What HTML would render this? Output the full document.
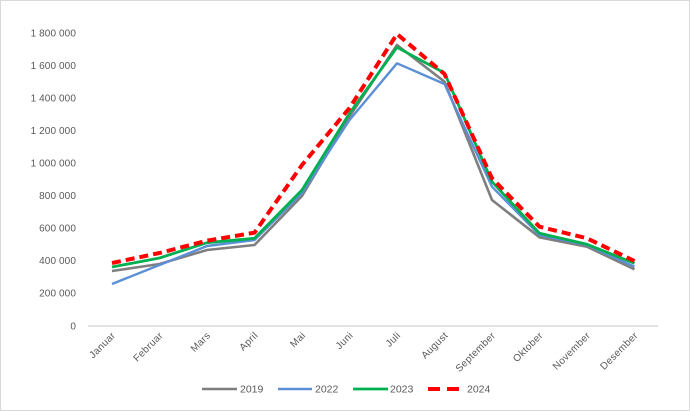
<!DOCTYPE html>
<html>
<head>
<meta charset="utf-8">
<style>
  html, body { margin: 0; padding: 0; background: #fff; }
  body { width: 690px; height: 411px; overflow: hidden; }
  svg { display: block; }
  text { font-family: "Liberation Sans", "DejaVu Sans", sans-serif; fill: #595959; }
</style>
</head>
<body>
<svg width="690" height="411" viewBox="0 0 690 411" xmlns="http://www.w3.org/2000/svg">
  <rect x="0.5" y="0.5" width="689" height="410" fill="#fff" stroke="#d9d9d9" stroke-width="1"/>

  <!-- Y axis labels -->
  <g font-size="10" text-anchor="end" letter-spacing="0.1">
    <text x="76" y="36.5">1 800 000</text>
    <text x="76" y="69">1 600 000</text>
    <text x="76" y="101.5">1 400 000</text>
    <text x="76" y="134">1 200 000</text>
    <text x="76" y="166.5">1 000 000</text>
    <text x="76" y="199">800 000</text>
    <text x="76" y="231.5">600 000</text>
    <text x="76" y="264">400 000</text>
    <text x="76" y="296.5">200 000</text>
    <text x="76" y="329.5">0</text>
  </g>

  <!-- X axis line -->
  <line x1="88" y1="326" x2="658" y2="326" stroke="#d9d9d9" stroke-width="1.5"/>

  <!-- X labels rotated -45 -->
  <g font-size="10" text-anchor="end" letter-spacing="0.3">
    <text transform="translate(116,336) rotate(-45)">Januar</text>
    <text transform="translate(163.5,336) rotate(-45)">Februar</text>
    <text transform="translate(211,336) rotate(-45)">Mars</text>
    <text transform="translate(258.5,336) rotate(-45)">April</text>
    <text transform="translate(306,336) rotate(-45)">Mai</text>
    <text transform="translate(353.5,336) rotate(-45)">Juni</text>
    <text transform="translate(401,336) rotate(-45)">Juli</text>
    <text transform="translate(448.5,336) rotate(-45)">August</text>
    <text transform="translate(496,336) rotate(-45)">September</text>
    <text transform="translate(543.5,336) rotate(-45)">Oktober</text>
    <text transform="translate(591,336) rotate(-45)">November</text>
    <text transform="translate(638.5,336) rotate(-45)">Desember</text>
  </g>

  <!-- Series -->
  <g fill="none" stroke-linejoin="round">
    <polyline stroke="#7f7f7f" stroke-width="2.6"
      points="112,271 159.5,264 207,250 254.5,245 302,196 349.5,116.7 397,45 444.5,81.7 492,200 539.5,237.3 587,246.7 634.5,269.3"/>
    <polyline stroke="#5b8fd6" stroke-width="2.4"
      points="112,284 159.5,265 207,246 254.5,240 302,193 349.5,120 397,63.3 444.5,84 492,186.7 539.5,235 587,245 634.5,266.7"/>
    <polyline stroke="#00b050" stroke-width="2.8"
      points="112,267 159.5,258 207,242.7 254.5,238.3 302,190 349.5,113.3 397,47.3 444.5,73 492,181.7 539.5,233.3 587,244.3 634.5,263.3"/>
    <polyline stroke="#ff0000" stroke-width="4" stroke-dasharray="9,5" stroke-linecap="butt"
      points="112,263 159.5,253 207,240.7 254.5,232.7 302,165 349.5,108 397,34 444.5,74 492,178.3 539.5,226.7 587,238.3 634.5,261"/>
  </g>

  <!-- Legend -->
  <g font-size="10.5">
    <line x1="202" y1="389" x2="237" y2="389" stroke="#7f7f7f" stroke-width="2.6"/>
    <text x="240" y="392.5">2019</text>
    <line x1="278" y1="389" x2="312" y2="389" stroke="#5b8fd6" stroke-width="2.4"/>
    <text x="315" y="392.5">2022</text>
    <line x1="353" y1="389" x2="388" y2="389" stroke="#00b050" stroke-width="2.8"/>
    <text x="390" y="392.5">2023</text>
    <line x1="428" y1="389" x2="460" y2="389" stroke="#ff0000" stroke-width="4" stroke-dasharray="12,7"/>
    <text x="467" y="392.5">2024</text>
  </g>
</svg>
</body>
</html>
